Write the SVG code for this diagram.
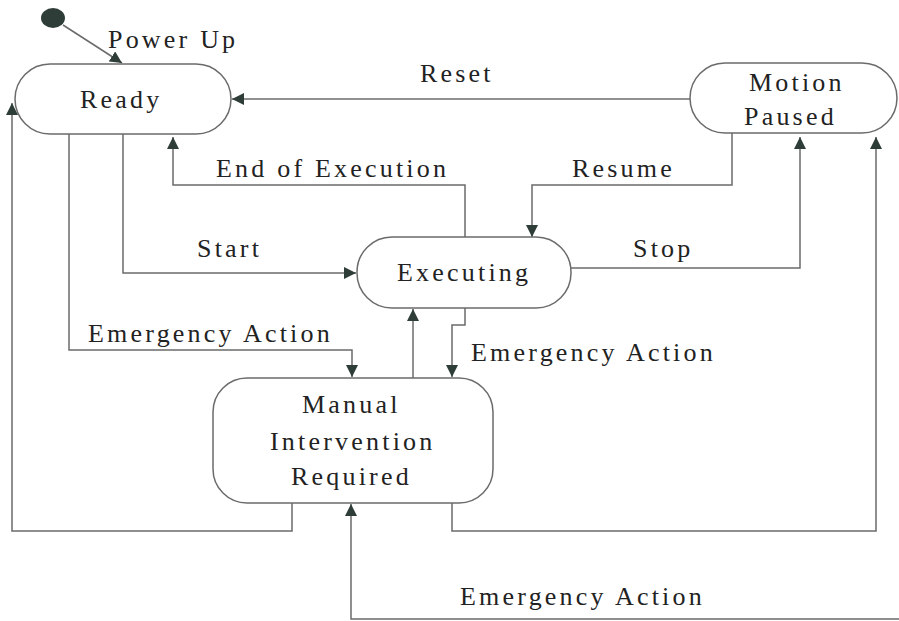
<svg xmlns="http://www.w3.org/2000/svg" width="899" height="621" viewBox="0 0 899 621">
<style>
.n{fill:#fff;stroke:#6b6b6b;stroke-width:1.5}
.c{fill:none;stroke:#6b6b6b;stroke-width:1.5}
text{font-family:"Liberation Serif","Times New Roman",serif;font-size:26px;fill:#222;letter-spacing:3.2px}
</style>
<defs>
<marker id="a" viewBox="0 0 12 12" refX="12" refY="6" markerWidth="12" markerHeight="12" markerUnits="userSpaceOnUse" orient="auto">
<path d="M0,0 L12,6 L0,12 Z" fill="#2e3d38"/>
</marker>
</defs>
<rect width="899" height="621" fill="#fff"/>
<g id="connectors">
<path class="c" d="M63,25 L122,63" marker-end="url(#a)"/>
<path class="c" d="M692,99 L232,99" marker-end="url(#a)"/>
<path class="c" d="M732,133 L732,185 L532,185 L532,237" marker-end="url(#a)"/>
<path class="c" d="M465,237 L465,185 L173,185 L173,137" marker-end="url(#a)"/>
<path class="c" d="M123,134 L123,273 L356,273" marker-end="url(#a)"/>
<path class="c" d="M571,268 L800,268 L800,137" marker-end="url(#a)"/>
<path class="c" d="M69,134 L69,350 L352,350 L352,377" marker-end="url(#a)"/>
<path class="c" d="M413,378 L413,309" marker-end="url(#a)"/>
<path class="c" d="M465,308 L465,325 L452,325 L452,377" marker-end="url(#a)"/>
<path class="c" d="M292,503 L292,531 L12,531 L12,103" marker-end="url(#a)"/>
<path class="c" d="M452,503 L452,531 L876,531 L876,137" marker-end="url(#a)"/>
<path class="c" d="M899,619 L351,619 L351,504" marker-end="url(#a)"/>
<text x="108" y="48">Power Up</text>
<text x="420" y="82">Reset</text>
<text x="216" y="177">End of Execution</text>
<text x="572" y="177">Resume</text>
<text x="197" y="257">Start</text>
<text x="633" y="257">Stop</text>
<text x="88" y="342">Emergency Action</text>
<text x="471" y="361">Emergency Action</text>
<text x="460" y="605">Emergency Action</text>
</g>
<g id="start"><ellipse cx="53" cy="18" rx="12" ry="10" fill="#2e3d38"/></g>
<g id="ready"><rect class="n" x="15" y="64" width="216" height="70" rx="35"/><text x="80" y="108">Ready</text></g>
<g id="paused"><rect class="n" x="690" y="63" width="207" height="70" rx="35"/><text x="749" y="91">Motion</text><text x="744" y="125">Paused</text></g>
<g id="executing"><rect class="n" x="357" y="237" width="214" height="71" rx="35"/><text x="397" y="281">Executing</text></g>
<g id="manual"><rect class="n" x="213" y="378" width="280" height="125" rx="34"/><text x="302" y="413">Manual</text><text x="270" y="450">Intervention</text><text x="291" y="485">Required</text></g>
</svg>
